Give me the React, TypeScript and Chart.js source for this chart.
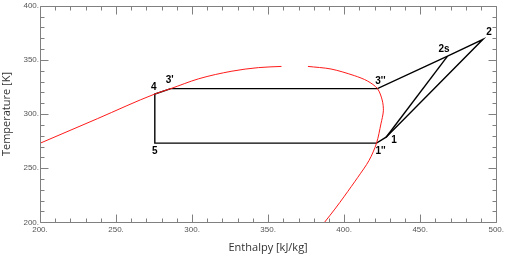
import React, { useEffect, useRef } from 'react';
import { Chart, registerables } from 'chart.js';

Chart.register(...registerables);

// Axis ranges and tick steps
const xMin = 200;
const xMax = 500;
const yMin = 200;
const yMax = 400;
const majorStep = 50;
const minorStep = 10;

// Saturation dome (red) – liquid branch and vapour branch
const liquidH = [200, 237.7, 275.5, 286.0, 304.4, 326.2, 343.6, 358.8];
const liquidT = [273.0, 295.7, 318.5, 323.5, 332.6, 339.6, 342.9, 344.0];
const vaporH = [376.2, 391.4, 406.7, 415.4, 421.9, 425.0, 425.8, 424.2, 421.3, 416.4, 409.0, 400.2, 393.9, 387.1];
const vaporT = [344.0, 341.6, 335.5, 330.5, 323.5, 313.0, 303.0, 291.0, 273.1, 257.2, 241.6, 224.2, 212.2, 200.0];

// Cycle state points
const pointNames = ["1", "1''", "2", "2s", "3'", "3''", "4", "5"];
const pointH = [427.6, 421.3, 491.3, 468.0, 286.0, 421.9, 275.5, 275.5];
const pointT = [278.6, 273.1, 369.0, 353.5, 323.5, 323.5, 318.5, 273.1];

// Cycle path (in order) and isentropic compression line
const cyclePath = ["3'", "4", "5", "1''", "1", "2", "2s", "3''", "3'"];
const isentropicPath = ["1", "2s"];

// Axis titles
const xTitle = 'Enthalpy [kJ/kg]';
const yTitle = 'Temperature [K]';

const pt = (name: string) => {
  const i = pointNames.indexOf(name);
  return { x: pointH[i], y: pointT[i] };
};

const labelOffsets: Record<string, [number, number]> = {
  "1": [8, 3.5],
  "1''": [4, 8.5],
  "2": [6, -7],
  "2s": [-3.5, -7],
  "3'": [-1, -8],
  "3''": [3, -7.5],
  "4": [-1, -7],
  "5": [0, 8.5],
};

const framePlugin = {
  id: 'frameTicks',
  afterDatasetsDraw(chart: any) {
    const { ctx, chartArea } = chart;
    const xs = chart.scales.x;
    const ys = chart.scales.y;
    const L = Math.round(chartArea.left) + 0.5;
    const R = Math.round(chartArea.right) + 0.5;
    const T = Math.round(chartArea.top) + 0.5;
    const B = Math.round(chartArea.bottom) + 0.5;
    ctx.save();
    ctx.strokeStyle = '#808080';
    ctx.lineWidth = 1;
    ctx.beginPath();
    ctx.rect(L, T, R - L, B - T);
    ctx.stroke();
    ctx.beginPath();
    for (let v = xMin; v <= xMax; v += minorStep) {
      const major = (v - xMin) % majorStep === 0;
      const len = major ? 8 : 4;
      const px = Math.round(xs.getPixelForValue(v)) + 0.5;
      ctx.moveTo(px, B);
      ctx.lineTo(px, B - len);
      ctx.moveTo(px, T);
      ctx.lineTo(px, T + len);
    }
    for (let v = yMin; v <= yMax; v += minorStep) {
      const major = (v - yMin) % majorStep === 0;
      const len = major ? 8 : 4;
      const py = Math.round(ys.getPixelForValue(v)) + 0.5;
      ctx.moveTo(L, py);
      ctx.lineTo(L + len, py);
      ctx.moveTo(R, py);
      ctx.lineTo(R - len, py);
    }
    ctx.stroke();
    ctx.restore();
  },
};

const labelPlugin = {
  id: 'pointLabels',
  afterDatasetsDraw(chart: any) {
    const { ctx } = chart;
    const xs = chart.scales.x;
    const ys = chart.scales.y;
    ctx.save();
    ctx.fillStyle = '#000';
    ctx.font = 'bold 10px "Liberation Sans", Arial, sans-serif';
    ctx.textAlign = 'center';
    ctx.textBaseline = 'middle';
    pointNames.forEach((name, i) => {
      const [dx, dy] = labelOffsets[name] || [0, 0];
      const px = xs.getPixelForValue(pointH[i]) + dx;
      const py = ys.getPixelForValue(pointT[i]) + dy;
      ctx.fillText(name, px, py);
    });
    ctx.restore();
  },
};

export default function App() {
  const canvasRef = useRef<HTMLCanvasElement | null>(null);

  useEffect(() => {
    if (!canvasRef.current) return;
    const lineStyle = { showLine: true, pointRadius: 0, pointHoverRadius: 0, fill: false };
    const chart = new Chart(canvasRef.current, {
      type: 'scatter',
      data: {
        datasets: [
          {
            ...lineStyle,
            data: liquidH.map((h, i) => ({ x: h, y: liquidT[i] })),
            borderColor: '#ff1a1a',
            borderWidth: 1,
            cubicInterpolationMode: 'monotone',
          },
          {
            ...lineStyle,
            data: vaporH.map((h, i) => ({ x: h, y: vaporT[i] })),
            borderColor: '#ff1a1a',
            borderWidth: 1,
            tension: 0.3,
          },
          {
            ...lineStyle,
            data: cyclePath.map(pt),
            borderColor: '#000',
            borderWidth: 1.4,
            tension: 0,
          },
          {
            ...lineStyle,
            data: isentropicPath.map(pt),
            borderColor: '#000',
            borderWidth: 1.4,
            tension: 0,
          },
        ],
      },
      options: {
        animation: false,
        responsive: true,
        maintainAspectRatio: false,
        layout: { padding: { top: 4.5, right: 7.7, left: 0, bottom: 0 } },
        plugins: {
          legend: { display: false },
          tooltip: { enabled: false },
        },
        scales: {
          x: {
            type: 'linear',
            min: xMin,
            max: xMax,
            afterFit: (s: any) => { s.height = 32.7; },
            border: { display: false },
            grid: { display: false, drawTicks: false },
            ticks: {
              stepSize: majorStep,
              padding: 3,
              color: '#555',
              font: { size: 8, family: '"Liberation Sans", Arial, sans-serif' },
              callback: (v: any) => `${v}.`,
              maxRotation: 0,
            },
            title: {
              display: true,
              text: xTitle,
              color: '#333',
              font: { size: 11, family: '"Open Sans", sans-serif' },
              padding: { top: 0, bottom: 1 },
            },
          },
          y: {
            type: 'linear',
            min: yMin,
            max: yMax,
            afterFit: (s: any) => { s.width = 40; },
            border: { display: false },
            grid: { display: false, drawTicks: false },
            ticks: {
              stepSize: majorStep,
              padding: 1,
              color: '#555',
              font: { size: 8, family: '"Liberation Sans", Arial, sans-serif' },
              callback: (v: any) => `${v}.`,
            },
            title: {
              display: true,
              text: yTitle,
              color: '#333',
              font: { size: 11, family: '"Open Sans", sans-serif' },
              padding: { top: 0, bottom: 0 },
            },
          },
        },
      },
      plugins: [framePlugin, labelPlugin],
    });
    return () => chart.destroy();
  }, []);

  return (
    <div style={{ position: 'fixed', left: 0, top: 0, width: 507, height: 255, background: '#fff' }}>
      <canvas ref={canvasRef} />
    </div>
  );
}
